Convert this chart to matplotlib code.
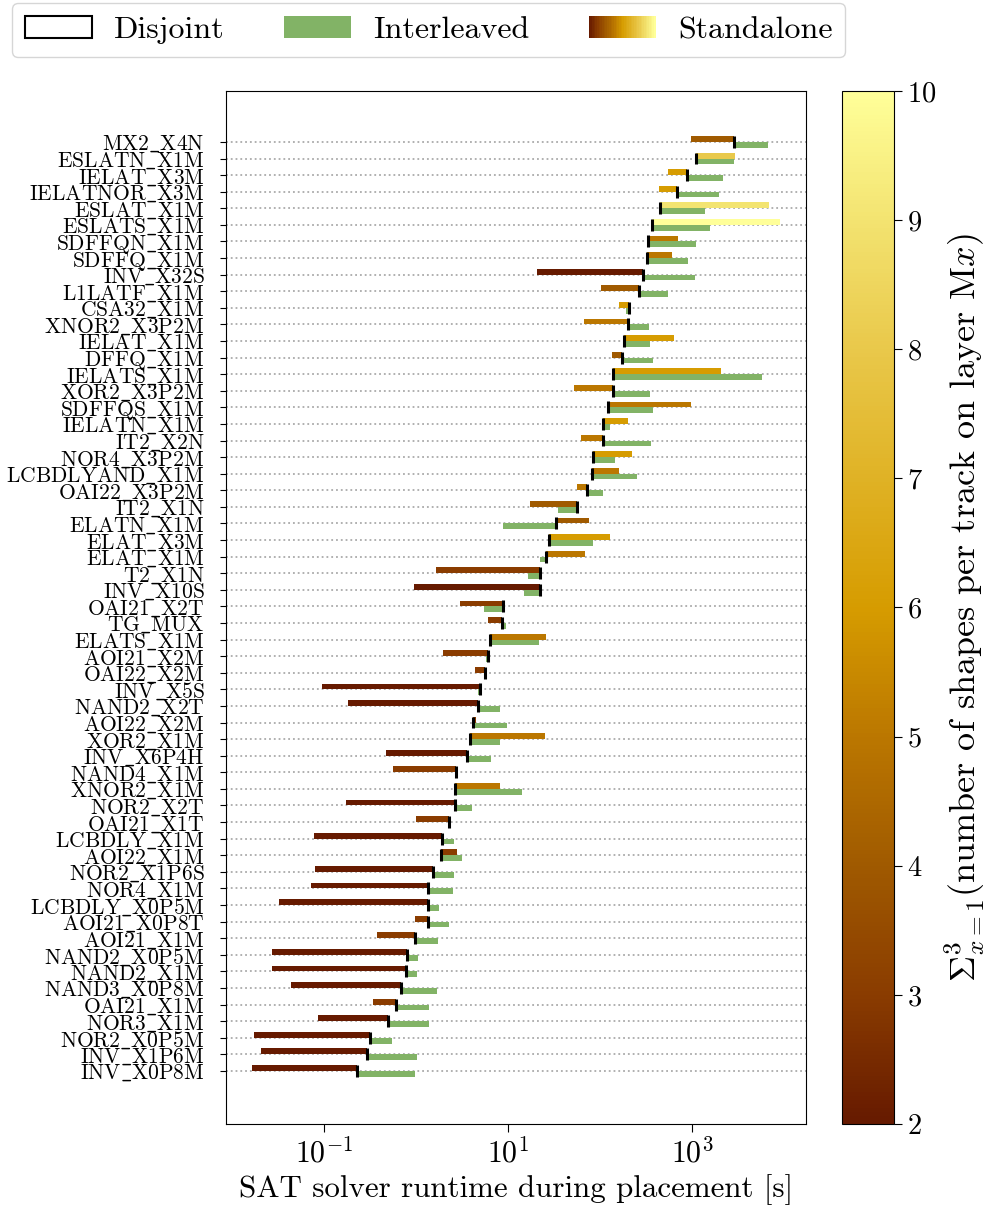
"""SAT solver runtime per cell: disjoint vs interleaved vs standalone"""

import numpy as np
import matplotlib
matplotlib.use('Agg')
import matplotlib.pyplot as plt
from matplotlib.colors import LinearSegmentedColormap, Normalize
from matplotlib.patches import Rectangle, Patch
from matplotlib.legend_handler import HandlerBase
from matplotlib.cm import ScalarMappable
from matplotlib.ticker import NullLocator

plt.rcParams['font.family'] = ['cmr10', 'DejaVu Serif', 'DejaVu Sans']
plt.rcParams['mathtext.fontset'] = 'cm'
plt.rcParams['axes.formatter.use_mathtext'] = True
plt.rcParams['font.size'] = 21.5

# cells, top to bottom
cells = ['MX2_X4N', 'ESLATN_X1M', 'IELAT_X3M', 'IELATNOR_X3M', 'ESLAT_X1M',
         'ESLATS_X1M', 'SDFFQN_X1M', 'SDFFQ_X1M', 'INV_X32S', 'L1LATF_X1M',
         'CSA32_X1M', 'XNOR2_X3P2M', 'IELAT_X1M', 'DFFQ_X1M', 'IELATS_X1M',
         'XOR2_X3P2M', 'SDFFQS_X1M', 'IELATN_X1M', 'IT2_X2N', 'NOR4_X3P2M',
         'LCBDLYAND_X1M', 'OAI22_X3P2M', 'IT2_X1N', 'ELATN_X1M', 'ELAT_X3M',
         'ELAT_X1M', 'T2_X1N', 'INV_X10S', 'OAI21_X2T', 'TG_MUX',
         'ELATS_X1M', 'AOI21_X2M', 'OAI22_X2M', 'INV_X5S', 'NAND2_X2T',
         'AOI22_X2M', 'XOR2_X1M', 'INV_X6P4H', 'NAND4_X1M', 'XNOR2_X1M',
         'NOR2_X2T', 'OAI21_X1T', 'LCBDLY_X1M', 'AOI22_X1M', 'NOR2_X1P6S',
         'NOR4_X1M', 'LCBDLY_X0P5M', 'AOI21_X0P8T', 'AOI21_X1M', 'NAND2_X0P5M',
         'NAND2_X1M', 'NAND3_X0P8M', 'OAI21_X1M', 'NOR3_X1M', 'NOR2_X0P5M',
         'INV_X1P6M', 'INV_X0P8M']

# runtimes [s]
disjoint = [2884, 1111, 873, 692, 448, 372, 336, 321, 290, 264,
            208, 199, 183, 174, 138, 137, 122, 108, 107, 84.7,
            80.9, 73, 56.9, 33, 27.6, 25.9, 22.3, 22.1, 8.85, 8.53,
            6.4, 6.0, 5.57, 4.94, 4.71, 4.18, 3.84, 3.6, 2.70, 2.68,
            2.68, 2.27, 1.94, 1.88, 1.54, 1.36, 1.35, 1.35, 0.986, 0.789,
            0.774, 0.693, 0.604, 0.492, 0.318, 0.296, 0.230]

standalone = [976, 2940, 550, 440, 6886, 9000, 705, 608, 20.7, 103,
              160, 67, 637, 136, 2065, 52, 976, 202, 62, 224,
              160, 56, 17.4, 75.8, 128, 69, 1.65, 0.95, 3.02, 6.05,
              25.9, 1.97, 4.38, 0.0955, 0.183, 4.5, 25.2, 0.474, 0.56, 8.2,
              0.173, 1.0, 0.078, 2.78, 0.080, 0.0725, 0.0324, 0.977, 0.377, 0.0272,
              0.0272, 0.044, 0.34, 0.0863, 0.0174, 0.0207, 0.0164]

interleaved = [6700, 2856, 2183, 1972, 1387, 1564, 1111, 906, 1080, 550,
               191, 343, 349, 376, 5770, 349, 376, 128, 359, 146,
               252, 108, 35, 8.85, 84, 22.3, 16.4, 15, 5.47, 9.44,
               21.7, 5.7, 5.5, 4.67, 8.2, 9.8, 8.2, 6.5, 2.68, 14.2,
               4.06, 2.42, 2.58, 3.16, 2.58, 2.53, 1.78, 2.29, 1.73, 1.05,
               1.02, 1.69, 1.39, 1.39, 0.55, 1.02, 0.977]

# sum over M1..M3 of shapes per track
shapes = [4, 8, 6, 6, 9, 10, 5, 5, 2, 4,
          6, 5, 6, 4, 6, 5, 5, 6, 5, 6,
          5, 5, 4, 4, 6, 5, 3, 2, 3, 3,
          5, 3, 3, 2, 2, 3, 5, 2, 3, 5,
          2, 3, 2, 3, 2, 2, 2, 3, 3, 2,
          2, 2, 3, 2, 2, 2, 2]

green = '#82b366'
cmap = LinearSegmentedColormap.from_list('standalone', [
    (0.0, '#661a00'), (0.125, '#8a3c00'), (0.25, '#a05a00'), (0.375, '#bb7700'),
    (0.5, '#d69c00'), (0.75, '#e9c84a'), (0.875, '#f3e370'), (1.0, '#ffff99')])
norm = Normalize(2, 10)


class GradientHandler(HandlerBase):
    def create_artists(self, legend, orig_handle, xdescent, ydescent,
                       width, height, fontsize, trans):
        n = 40
        w = width / n
        arts = []
        for k in range(n):
            r = Rectangle((-xdescent + k * w, -ydescent), w * 1.05, height,
                          facecolor=cmap(k / (n - 1)), edgecolor='none',
                          transform=trans)
            arts.append(r)
        return arts


d = np.array(disjoint)
s = np.array(standalone)
i = np.array(interleaved)
pos = np.arange(len(cells))[::-1]

fig = plt.figure(figsize=(9.98, 12.18), dpi=100)
ax = fig.add_axes([0.2265, 0.0772, 0.5811, 0.8481])

ax.barh(pos, s - d, left=d, height=0.35, align='edge',
        color=cmap(norm(np.array(shapes))), zorder=2)
ax.barh(pos, i - d, left=d, height=-0.35, align='edge', color=green, zorder=2)
ax.vlines(d, pos - 0.36, pos + 0.36, color='black', lw=2.2, zorder=3)

ax.set_xscale('log')
ax.set_xlim(10 ** -2.065, 10 ** 4.239)
ax.set_ylim(-3.2, len(cells) + 2.07)
ax.set_xticks([1e-1, 1e1, 1e3])
ax.xaxis.set_minor_locator(NullLocator())
ax.set_yticks(pos)
# cmr10 has a dot accent at '_', take the typewriter underscore instead
ax.set_yticklabels([c.replace('_', r'$\mathtt{\_}$') for c in cells], fontsize=15.5)
ax.tick_params(axis='x', length=6)
ax.tick_params(axis='y', length=4.5, pad=11)
ax.yaxis.grid(True, linestyle=':', color='#aaaaaa', lw=1.3)
ax.set_axisbelow(True)
ax.set_xlabel('SAT solver runtime during placement [s]', fontsize=22.3)

cax = fig.add_axes([0.8437, 0.0772, 0.0521, 0.8481])
cb = fig.colorbar(ScalarMappable(norm=norm, cmap=cmap), cax=cax)
cb.set_ticks(range(2, 11))
cax.tick_params(length=6, labelsize=20.5)
cb.set_label(r'$\Sigma_{x=1}^{3}$(number of shapes per track on layer M$x$)',
             fontsize=26)

grad = Patch(facecolor='none')
handles = [Patch(facecolor='white', edgecolor='black', lw=1.5),
           Patch(facecolor=green), grad]
fig.legend(handles, ['Disjoint', 'Interleaved', 'Standalone'],
           loc='upper left', bbox_to_anchor=(0.012, 0.9975), borderaxespad=0,
           ncol=3, fontsize=23, handlelength=2.1, columnspacing=1.85,
           handletextpad=0.7, handler_map={grad: GradientHandler()})

plt.savefig('out.png', dpi=100)
